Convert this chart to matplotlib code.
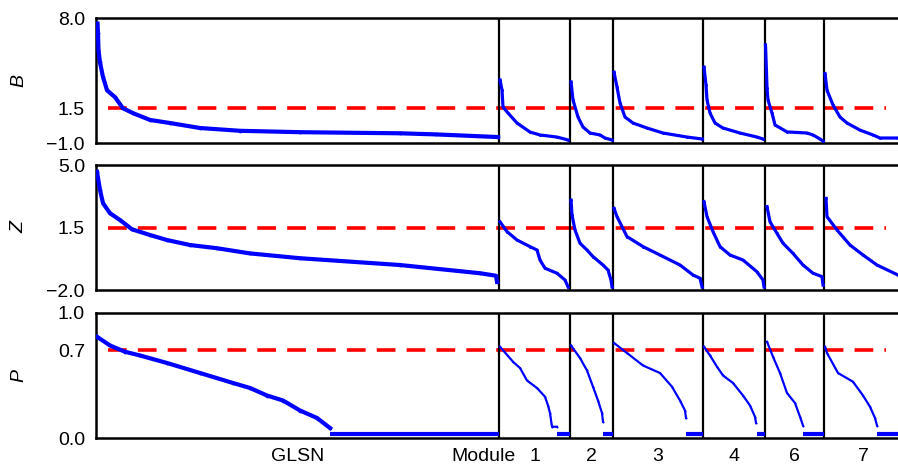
import numpy as np
import matplotlib
matplotlib.use('Agg')
import matplotlib.pyplot as plt

plt.rcParams['font.family'] = ['Liberation Sans', 'DejaVu Sans']
plt.rcParams['font.size'] = 14
plt.rcParams['lines.scale_dashes'] = False

# segments: GLSN ranking followed by the modules
seg_names = ['GLSN', '1', '2', '3', '4', '6', '7']
seg_sizes = [403, 71, 43, 90, 62, 59, 78]

# B score, (rank within segment, value) read per segment
b_ranks = [
    [1.5, 2, 2.5, 4, 7, 11, 19, 27, 37, 54, 74, 104, 144, 204, 304, 340, 402],
    [1, 3, 4, 9, 18, 31, 41, 58, 69],
    [1, 3, 8, 13, 20, 30, 35, 42],
    [1, 4, 7, 12, 20, 34, 50, 74, 89],
    [1, 3, 4, 7, 12, 20, 37, 54, 60],
    [0.5, 1.5, 2, 3, 7, 10, 22, 42, 48, 55, 58],
    [1, 3, 9, 16, 23, 36, 49, 56, 74],
]
b_values = [
    [7.6, 6.9, 5.7, 4.8, 3.75, 2.8, 2.3, 1.5, 1.15, 0.66, 0.44, 0.08, -0.12, -0.22, -0.3, -0.38, -0.57],
    [3.54, 2.82, 1.59, 1.16, 0.44, -0.21, -0.42, -0.57, -0.78],
    [3.4, 2.1, 0.87, 0.15, -0.28, -0.42, -0.64, -0.78],
    [4.1, 3.03, 1.88, 0.87, 0.44, 0.08, -0.28, -0.57, -0.71],
    [4.47, 3.18, 2.1, 1.16, 0.44, 0.08, -0.28, -0.57, -0.71],
    [6.06, 4.1, 2.96, 2.1, 1.16, 0.3, -0.2, -0.28, -0.42, -0.71, -0.86],
    [4.0, 2.8, 1.74, 0.87, 0.44, -0.07, -0.42, -0.64, -0.64],
]

# Z score
z_ranks = [
    [1, 4, 7, 14, 24, 36, 54, 71, 94, 121, 154, 204, 304, 384, 400, 401],
    [1, 8, 18, 31, 38, 41, 46, 58, 66, 69],
    [1, 2, 5, 10, 17, 23, 33, 38, 41, 42],
    [1, 4, 14, 30, 47, 67, 80, 87, 89],
    [1, 4, 10, 17, 27, 40, 54, 60, 61],
    [2, 5, 12, 18, 28, 38, 48, 57, 58],
    [2, 3, 13, 26, 39, 53, 74],
]
z_values = [
    [4.62, 3.6, 2.86, 2.3, 1.92, 1.4, 1.08, 0.8, 0.52, 0.34, 0.05, -0.22, -0.6, -1.06, -1.2, -1.54],
    [1.82, 1.27, 0.8, 0.43, 0.24, -0.32, -0.78, -1.06, -1.44, -1.82],
    [3.04, 2.2, 1.36, 0.62, 0.24, -0.13, -0.6, -0.88, -1.44, -1.82],
    [2.57, 2.11, 0.99, 0.43, -0.04, -0.6, -1.16, -1.34, -1.82],
    [2.95, 2.11, 1.27, 0.43, -0.04, -0.32, -0.98, -1.44, -1.82],
    [2.67, 1.82, 1.17, 0.62, 0.05, -0.6, -1.06, -1.25, -1.72],
    [3.13, 2.11, 1.36, 0.52, -0.04, -0.6, -1.16],
]

# P score, plus the flat run of near-zero values at the end of each segment
p_ranks = [
    [1, 14, 29, 44, 71, 104, 137, 154, 171, 187, 204, 221, 234],
    [1, 14, 21, 28, 38, 46, 49, 51, 53, 58],
    [1, 10, 17, 23, 28, 32, 33],
    [1, 14, 30, 47, 59, 67, 72, 73],
    [1, 7, 14, 20, 30, 40, 47, 52, 53],
    [2, 8, 15, 22, 30, 35, 38],
    [1, 3, 14, 29, 39, 46, 51, 53],
]
p_values = [
    [0.81, 0.74, 0.69, 0.66, 0.60, 0.52, 0.44, 0.40, 0.34, 0.30, 0.22, 0.16, 0.08],
    [0.73, 0.61, 0.56, 0.46, 0.40, 0.33, 0.26, 0.20, 0.09, 0.09],
    [0.74, 0.64, 0.54, 0.41, 0.30, 0.20, 0.13],
    [0.76, 0.68, 0.58, 0.52, 0.41, 0.30, 0.22, 0.16],
    [0.73, 0.66, 0.57, 0.50, 0.44, 0.34, 0.26, 0.17, 0.12],
    [0.77, 0.65, 0.52, 0.36, 0.28, 0.17, 0.10],
    [0.73, 0.68, 0.52, 0.45, 0.34, 0.25, 0.16, 0.10],
]
p_tail_start = [234, 58, 33, 73, 54, 38, 53]
p_tail_value = 0.03

thresholds = [1.5, 1.5, 0.7]
ylims = [(-1.0, 8.0), (-2.0, 5.0), (0.0, 1.0)]
yticks = [[-1.0, 1.5, 8.0], [-2.0, 1.5, 5.0], [0.0, 0.7, 1.0]]
ylabels = ['B', 'Z', 'P']

offsets = np.concatenate([[0], np.cumsum(seg_sizes)[:-1]])
xmax = 802

fig = plt.figure(figsize=(8.98, 4.68), dpi=100)
bottoms = [0.6944, 0.3803, 0.0641]
axes = [fig.add_axes([0.1069, b, 0.8931, 0.2671]) for b in bottoms]

panels = [(b_ranks, b_values), (z_ranks, z_values), (p_ranks, p_values)]
for i, ax in enumerate(axes):
    ranks, values = panels[i]
    for j in range(len(seg_sizes)):
        x = offsets[j] + np.array(ranks[j])
        lw = 3.0 if j == 0 else (2.3 if i < 2 else 1.6)
        ax.plot(x, values[j], color='blue', lw=lw, marker='o', ms=lw * 0.9,
                mec='none', zorder=3)
        if i == 2:
            ax.plot([offsets[j] + p_tail_start[j], offsets[j] + seg_sizes[j]],
                    [p_tail_value, p_tail_value], color='blue', lw=3.0,
                    solid_capstyle='butt', zorder=3)
    for off in offsets[1:]:
        ax.axvline(off, color='black', lw=1.6, zorder=2.5)
    ax.plot([12, 790], [thresholds[i], thresholds[i]], color='red', lw=2.6,
            dashes=(13.5, 8), zorder=2)

    ax.set_xlim(0, xmax)
    ax.set_ylim(*ylims[i])
    ax.set_yticks(yticks[i])
    ax.set_yticklabels(['{:.1f}'.format(v).replace('-', '\u2212') for v in yticks[i]])
    ax.tick_params(axis='y', length=0, pad=8, labelsize=14)
    ax.set_ylabel(ylabels[i], fontstyle='italic', fontsize=14)
    ax.yaxis.set_label_coords(-0.085, 0.5)
    for s in ['left', 'top', 'bottom']:
        ax.spines[s].set_linewidth(1.8)
    ax.spines['right'].set_visible(False)
    if i < 2:
        ax.set_xticks([])
    else:
        centers = [offsets[j] + seg_sizes[j] / 2 for j in range(len(seg_sizes))]
        ax.set_xticks([offsets[1] - 15] + centers)
        ax.set_xticklabels(['Module'] + seg_names)
        ax.tick_params(axis='x', length=0, pad=7, labelsize=14)

fig.savefig('out.png', dpi=100)
